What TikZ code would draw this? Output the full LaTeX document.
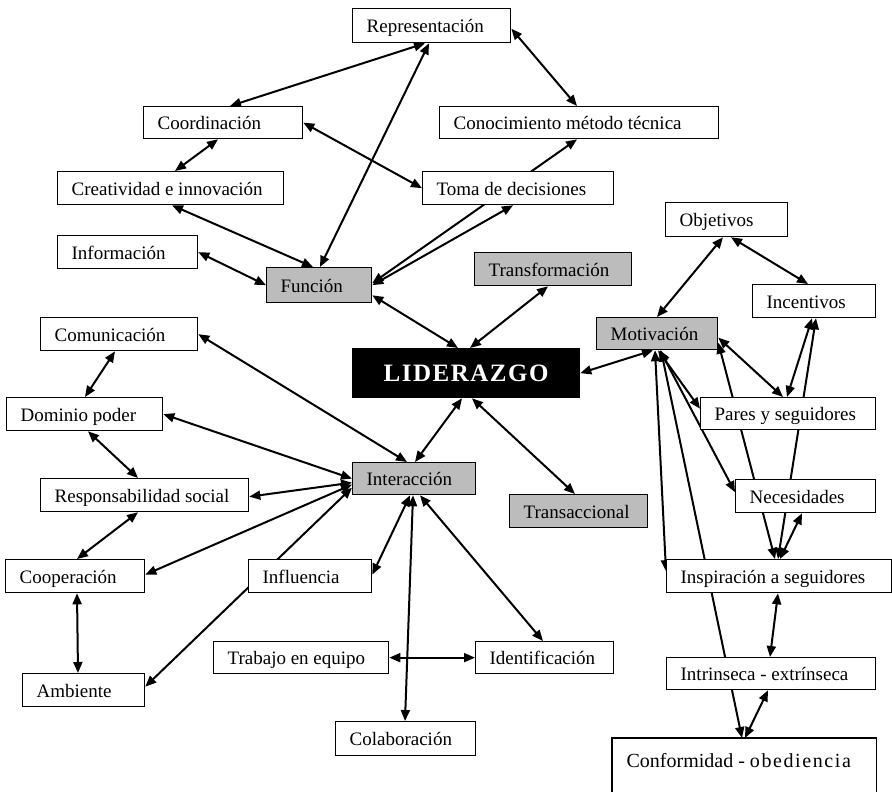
\documentclass[tikz,border=0pt]{standalone}
\usepackage{fontspec}
\setmainfont{Liberation Serif}
\usetikzlibrary{arrows.meta}
\definecolor{boxgray}{RGB}{188,188,188}
\pgfdeclarelayer{back}
\pgfdeclarelayer{bg}
\pgfsetlayers{back,bg,main}
\newcommand\mybox[7]{%
 \pgfmathsetmacro\bw{#5-#3-28}%
 \pgfmathsetmacro\bh{#6-#4}%
 \node[#1, anchor=north west, minimum height=\bh pt, inner xsep=14pt, inner ysep=0pt] (#2) at (#3,#4) {\hbox to \bw pt{#7\hfil}};%
}
\tikzset{
 wbox/.style={draw=black, line width=1.3pt, fill=white, font=\fontsize{19}{22}\selectfont, text height=16pt, text depth=2pt},
 gbox/.style={wbox, fill=boxgray},
 bbox/.style={draw=black, line width=1.3pt, fill=black, text=white, font=\fontsize{25}{28}\selectfont\bfseries, text height=17pt, text depth=1pt},
 arr/.style={line width=2pt, {Triangle[length=11pt,width=9pt]}-{Triangle[length=11pt,width=9pt]}}
}
\begin{document}
\begin{tikzpicture}[x=1pt,y=-1pt]
\begin{pgfonlayer}{back}
\fill[white] (0,0) rectangle (892,792);
\end{pgfonlayer}
\useasboundingbox (0,0) rectangle (892,792);
% boxes
\mybox{wbox}{rep}{352}{8}{510}{42}{Representación}
\mybox{wbox}{coord}{143}{106}{302}{138}{Coordinación}
\mybox{wbox}{conoc}{439}{106}{718}{138}{Conocimiento método técnica}
\mybox{wbox}{creat}{57}{171}{283}{204}{Creatividad e innovación}
\mybox{wbox}{toma}{422}{171}{613}{204}{Toma de decisiones}
\mybox{wbox}{info}{57}{235}{197}{268}{Información}
\mybox{wbox}{obj}{665}{202}{787}{236}{Objetivos}
\mybox{gbox}{func}{266}{267}{371}{302}{Función}
\mybox{gbox}{transf}{474}{252}{631}{285}{Transformación}
\mybox{wbox}{incent}{752}{284}{875}{317}{Incentivos}
\mybox{gbox}{motiv}{596}{317}{717}{349}{Motivación}
\mybox{wbox}{com}{40}{317}{197}{350}{Comunicación}
\mybox{bbox}{lid}{352}{348}{579}{397}{\hfil\addfontfeature{LetterSpace=6}LIDERAZGO}
\mybox{wbox}{dom}{6}{397}{162}{430}{Dominio poder}
\mybox{wbox}{pares}{700}{397}{875}{429}{Pares y seguidores}
\mybox{gbox}{inter}{352}{462}{475}{494}{Interacción}
\mybox{wbox}{resp}{40}{478}{248}{511}{Responsabilidad social}
\mybox{wbox}{neces}{735}{479}{875}{512}{Necesidades}
\mybox{gbox}{transac}{509}{494}{647}{527}{Transaccional}
\mybox{wbox}{coop}{5}{559}{144}{592}{Cooperación}
\mybox{wbox}{influ}{248}{559}{371}{592}{Influencia}
\mybox{wbox}{inspir}{666}{559}{891}{592}{Inspiración a seguidores}
\mybox{wbox}{trab}{213}{641}{388}{673}{Trabajo en equipo}
\mybox{wbox}{ident}{475}{641}{613}{673}{Identificación}
\mybox{wbox}{intr}{666}{657}{875}{689}{Intrinseca - extrínseca}
\mybox{wbox}{amb}{22}{673}{144}{706}{Ambiente}
\mybox{wbox}{colab}{335}{721}{475}{755}{Colaboración}
\mybox{wbox, draw=none, font=\fontsize{20}{23}\selectfont}{conf}{612}{738}{875}{782}{Conformidad - {\addfontfeature{LetterSpace=8}obediencia}}
\draw[line width=1.3pt] ([yshift=-30pt]conf.south west) -- (conf.north west) -- (conf.north east) -- ([yshift=-30pt]conf.south east);
% connectors
\begin{pgfonlayer}{bg}
\draw[arr] ([xshift=73pt]rep.south west) -- ([xshift=87pt]coord.north west);
\draw[arr] ([xshift=77pt]rep.south west) -- ([xshift=54pt]func.north west);
\draw[arr] ([yshift=-3pt]rep.east) -- ([xshift=138pt]conoc.north west);
\draw[arr] ([xshift=75pt]coord.south west) -- ([xshift=118pt]creat.north west);
\draw[arr] (coord.east) -- (toma.west);
\draw[arr] ([xshift=115pt]creat.south west) -- ([xshift=47pt]func.north west);
\draw[arr] (info.east) -- (func.west);
\draw[arr] ([xshift=138pt]conoc.south west) -- ([yshift=2pt]func.east);
\draw[arr] ([xshift=91pt]toma.south west) -- (func.east);
\draw[arr] ([yshift=8pt]func.south east) -- ([xshift=106pt]lid.north west);
\draw[arr] ([xshift=74pt]transf.south west) -- ([xshift=118pt]lid.north west);
\draw[arr] ([xshift=57pt]motiv.south west) -- (lid.east);
\draw[arr] ([xshift=58pt]obj.south west) -- ([xshift=61pt]motiv.north west);
\draw[arr] ([xshift=66pt]obj.south west) -- ([xshift=56pt]incent.north west);
\draw[arr] ([yshift=-4pt]motiv.east) -- ([xshift=83pt]pares.north west);
\draw[arr] ([xshift=60pt]incent.south west) -- ([xshift=87pt]pares.north west);
\draw[arr] ([xshift=64pt]incent.south west) -- ([xshift=112pt]inspir.north west);
\draw[arr] ([yshift=-9pt]motiv.east) -- ([xshift=109pt]inspir.north west);
\draw[arr] ([xshift=67pt]neces.south west) -- ([xshift=114pt]inspir.north west);
\draw[arr] ([xshift=62pt]motiv.south west) -- ([yshift=5pt]pares.west);
\draw[arr] ([xshift=64pt]motiv.south west) -- ([yshift=4pt]neces.west);
\draw[arr] ([xshift=59pt]motiv.south west) -- ([yshift=5pt]inspir.west);
\draw[arr] ([xshift=65pt]motiv.south west) -- ([xshift=130pt]conf.north west);
\draw[arr] ([xshift=112pt]inspir.south west) -- ([xshift=104pt]intr.north west);
\draw[arr] ([xshift=102pt]intr.south west) -- ([xshift=133pt]conf.north west);
\draw[arr] ([xshift=110pt]lid.south west) -- ([xshift=63pt]inter.north west);
\draw[arr] ([xshift=120pt]lid.south west) -- ([xshift=66pt]transac.north west);
\draw[arr] (com.east) -- ([xshift=55pt]inter.north west);
\draw[arr] (dom.east) -- (inter.west);
\draw[arr] ([xshift=75pt]com.south west) -- ([xshift=79pt]dom.north west);
\draw[arr] ([xshift=82pt]dom.south west) -- ([xshift=98pt]resp.north west);
\draw[arr] ([yshift=-1.5pt]resp.east) -- ([yshift=-4pt]inter.west);
\draw[arr] ([xshift=98pt]resp.south west) -- ([xshift=72pt]coop.north west);
\draw[arr] ([yshift=-6pt]inter.west) -- ([yshift=1.5pt]coop.east);
\draw[arr] ([yshift=-9pt]inter.west) -- ([yshift=3.5pt]amb.east);
\draw[arr] ([xshift=58pt]inter.south west) -- ([yshift=1.5pt]influ.east);
\draw[arr] ([xshift=61pt]inter.south west) -- ([xshift=70pt]colab.north west);
\draw[arr] (trab.east) -- (ident.west);
\draw[arr] ([xshift=68pt]inter.south west) -- ([xshift=68pt]ident.north west);
\draw[arr] ([xshift=72pt]coop.south west) -- ([xshift=56pt]amb.north west);
\end{pgfonlayer}
\end{tikzpicture}
\end{document}
